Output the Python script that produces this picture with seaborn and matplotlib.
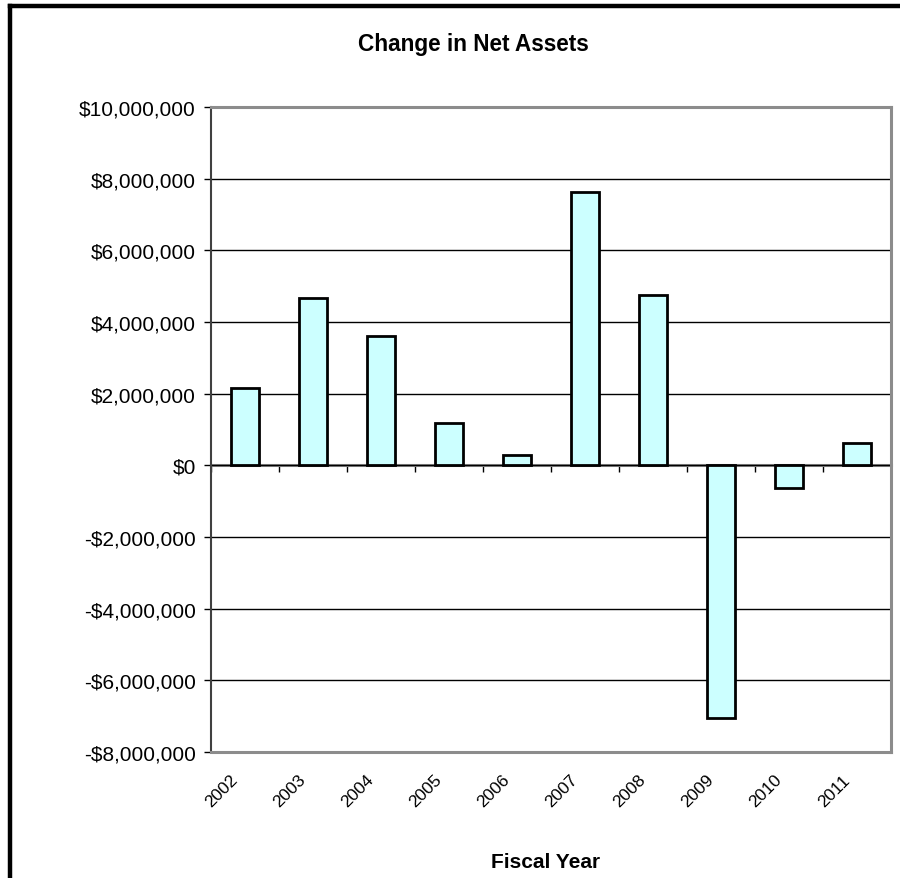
import matplotlib
matplotlib.use("Agg")
import matplotlib.pyplot as plt
import seaborn as sns
import pandas as pd
from matplotlib.lines import Line2D
from matplotlib.ticker import FuncFormatter, MultipleLocator
from matplotlib.transforms import ScaledTranslation

years = ["2002", "2003", "2004", "2005", "2006", "2007", "2008", "2009", "2010", "2011"]
net_change = [2160000, 4670000, 3610000, 1190000, 300000, 7620000, 4740000, -7040000, -620000, 630000]
title_text = "Change in Net Assets"
xlabel_text = "Fiscal Year"

sns.set_theme(style="white")
plt.rcParams["font.family"] = ["Liberation Sans", "DejaVu Sans"]

df = pd.DataFrame({"year": years, "value": net_change})

W, H = 900, 879
fig = plt.figure(figsize=(W / 100, H / 100), dpi=100)
ax = fig.add_axes([211 / W, 1 - 753 / H, (891 - 211) / W, (753 - 108) / H])

sns.barplot(data=df, x="year", y="value", color="#CCFFFF", edgecolor="black",
            linewidth=2.0, width=0.41, saturation=1, ax=ax, zorder=3)
for p in ax.patches:
    p.set_facecolor("#CCFFFF")
    p.set_zorder(3)

ax.set_xlim(-0.5, 9.5)
ax.set_ylim(-8000000, 10000000)
ax.yaxis.set_major_locator(MultipleLocator(2000000))

def money(v, pos):
    v = int(round(v))
    if v < 0:
        return "-${:,}".format(-v)
    return "${:,}".format(v)

ax.yaxis.set_major_formatter(FuncFormatter(money))
ax.grid(axis="y", color="black", linewidth=1.0, zorder=1)
ax.grid(axis="x", visible=False)
ax.set_axisbelow(True)

for s in ["top", "right", "bottom"]:
    ax.spines[s].set_color("#8c8c8c")
    ax.spines[s].set_linewidth(2.2)
ax.spines["left"].set_color("#404040")
ax.spines["left"].set_linewidth(1.5)

ax.tick_params(axis="y", which="major", left=True, direction="out", length=5, width=1,
               color="black", labelsize=15, pad=6, labelcolor="black")
ax.set_xticks(range(len(years)))
ax.set_xticklabels(years)
ax.tick_params(axis="x", length=0, labelsize=12.5, pad=18, labelcolor="black")
shift = ScaledTranslation(-10 / 100, 0, fig.dpi_scale_trans)
for lbl in ax.get_xticklabels():
    lbl.set_rotation(45)
    lbl.set_ha("right")
    lbl.set_va("center")
    lbl.set_rotation_mode("anchor")
    lbl.set_transform(lbl.get_transform() + shift)
ax.set_xlabel("")
ax.set_ylabel("")

# category axis crossing at zero
zero_frac = 8000000 / 18000000
sec = ax.secondary_xaxis(zero_frac)
sec.set_alignment("bottom")
sec.set_xticks([i - 0.5 for i in range(len(years) + 1)])
sec.set_xticklabels([])
sec.tick_params(axis="x", direction="out", length=5, width=1, color="black")
sec.spines["bottom"].set_color("#8c8c8c")
sec.spines["bottom"].set_linewidth(2.2)
sec.spines["bottom"].set_zorder(4)

fig.text(473.5 / W, 1 - 44 / H, title_text, ha="center", va="center",
         fontsize=16.3, fontweight="bold", color="black")
fig.text(546 / W, 1 - 863 / H, xlabel_text, ha="center", va="center",
         fontsize=15, fontweight="bold", color="black")

# outer chart border (left and top visible)
fig.add_artist(Line2D([10 / W, 10 / W], [0, 1 - 6.5 / H], color="black", linewidth=3.2,
                      transform=fig.transFigure, solid_capstyle="projecting"))
fig.add_artist(Line2D([10 / W, 1], [1 - 6.5 / H, 1 - 6.5 / H], color="black", linewidth=3.2,
                      transform=fig.transFigure, solid_capstyle="projecting"))

fig.savefig("out.png", dpi=100)
